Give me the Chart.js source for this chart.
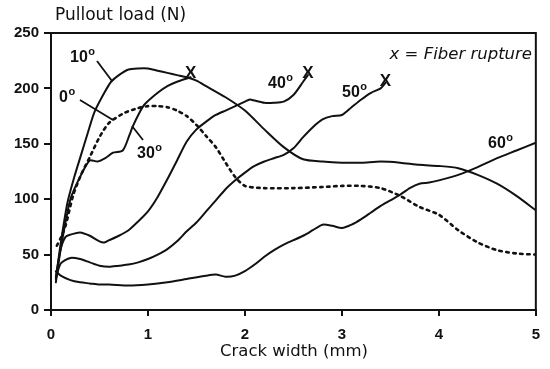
<!DOCTYPE html>
<html>
<head>
<meta charset="utf-8">
<script src="https://cdn.jsdelivr.net/npm/chart.js@4/dist/chart.umd.min.js"></script>
<style>
  html, body { margin: 0; padding: 0; background: #fff; }
  #chart { display: block; }
</style>
</head>
<body>
<canvas id="chart" width="550" height="369"></canvas>
<script>
// crack width (mm) / pullout load (N)
const deg0X = [0.06, 0.1, 0.15, 0.23, 0.31, 0.4, 0.5, 0.6, 0.76, 0.89, 1.0, 1.1, 1.2, 1.3, 1.4, 1.5, 1.6, 1.7, 1.8, 1.9, 2.0, 2.2, 2.5, 2.8, 3.0, 3.2, 3.4, 3.6, 3.8, 4.0, 4.2, 4.4, 4.6, 4.8, 5.0];
const deg0Y = [58, 65, 76, 104, 122, 138, 156, 169, 178, 182, 184, 184, 183, 180, 175, 167, 157, 147, 133, 120, 112, 110, 110, 111, 112, 112, 110, 103, 93, 86, 72, 61, 54, 51, 50];

const deg10X = [0.05, 0.1, 0.17, 0.24, 0.31, 0.38, 0.45, 0.55, 0.62, 0.7, 0.8, 0.9, 1.0, 1.1, 1.2, 1.3, 1.4, 1.5, 1.6, 1.8, 2.0, 2.2, 2.4, 2.6, 2.8, 3.0, 3.2, 3.4, 3.6, 3.8, 4.0, 4.2, 4.4, 4.6, 4.8, 5.0];
const deg10Y = [28, 60, 97, 120, 140, 160, 179, 196, 206, 212, 217, 218, 218, 216, 214, 212, 210, 207, 202, 192, 180, 163, 147, 136, 134, 133, 133, 134, 133, 131, 130, 128, 122, 114, 103, 90];

const deg30X = [0.05, 0.1, 0.2, 0.31, 0.4, 0.48, 0.56, 0.64, 0.74, 0.81, 0.84, 0.9, 0.96, 1.1, 1.2, 1.3, 1.44];
const deg30Y = [25, 55, 100, 122, 135, 134, 137, 142, 144, 158, 165, 176, 185, 196, 202, 206, 210];

const deg40X = [0.05, 0.1, 0.15, 0.2, 0.3, 0.4, 0.5, 0.55, 0.6, 0.7, 0.8, 0.9, 1.0, 1.1, 1.2, 1.3, 1.4, 1.5, 1.6, 1.7, 1.8, 1.9, 2.0, 2.05, 2.1, 2.2, 2.3, 2.4, 2.5, 2.6, 2.65];
const deg40Y = [30, 55, 66, 68, 70, 67, 62, 61, 63, 67, 72, 80, 89, 102, 118, 135, 152, 163, 170, 176, 180, 184, 188, 190, 189, 187, 187, 188, 194, 206, 212];

const deg50X = [0.05, 0.1, 0.2, 0.3, 0.4, 0.5, 0.6, 0.7, 0.8, 0.9, 1.0, 1.1, 1.2, 1.3, 1.4, 1.5, 1.6, 1.7, 1.8, 1.9, 2.0, 2.1, 2.2, 2.3, 2.4, 2.5, 2.6, 2.7, 2.8, 2.9, 3.0, 3.1, 3.2, 3.3, 3.4, 3.45];
const deg50Y = [28, 42, 47, 46, 43, 40, 39, 40, 41, 43, 46, 50, 55, 62, 71, 79, 89, 99, 109, 117, 124, 130, 134, 137, 140, 146, 156, 165, 172, 175, 176, 183, 190, 196, 200, 205];

const deg60X = [0.05, 0.1, 0.2, 0.3, 0.4, 0.5, 0.6, 0.8, 1.0, 1.2, 1.4, 1.6, 1.7, 1.8, 1.9, 2.0, 2.1, 2.2, 2.3, 2.4, 2.5, 2.6, 2.7, 2.8, 2.9, 3.0, 3.1, 3.2, 3.3, 3.4, 3.5, 3.6, 3.7, 3.8, 3.9, 4.0, 4.2, 4.4, 4.6, 4.8, 5.0];
const deg60Y = [35, 31, 27, 25, 24, 23, 23, 22, 23, 25, 28, 31, 32, 30, 31, 35, 41, 48, 54, 59, 63, 67, 72, 77, 76, 74, 77, 82, 88, 94, 99, 104, 110, 114, 115, 117, 122, 129, 137, 144, 151];

// fiber rupture marks
const ruptureX = [1.44, 2.65, 3.45];
const ruptureY = [214, 214, 206];

const xTicks = [0, 1, 2, 3, 4, 5];
const yTicks = [0, 50, 100, 150, 200, 250];

function pts(xs, ys) {
    return xs.map((x, i) => ({ x: x, y: ys[i] }));
}

function curve(label, xs, ys, dash) {
    return {
        label: label,
        data: pts(xs, ys),
        borderColor: '#111',
        borderWidth: dash ? 2.6 : 2,
        borderDash: dash || [],
        borderCapStyle: 'round',
        pointRadius: 0,
        tension: 0.25,
        fill: false
    };
}

const tickFont = { family: '"Liberation Sans", Arial, sans-serif', size: 15, weight: 'bold' };

// texts, leaders, frame
const decorPlugin = {
    id: 'decor',
    afterDraw(chart) {
        const ctx = chart.ctx;
        const a = chart.chartArea;
        ctx.save();
        ctx.strokeStyle = '#111';
        ctx.lineWidth = 2;
        ctx.beginPath();
        ctx.moveTo(a.left, a.top);
        ctx.lineTo(a.right, a.top);
        ctx.lineTo(a.right, a.bottom);
        ctx.stroke();

        // leader lines
        ctx.lineWidth = 1.8;
        ctx.beginPath();
        ctx.moveTo(97, 61); ctx.lineTo(112, 81);
        ctx.moveTo(80, 100); ctx.lineTo(113, 120);
        ctx.moveTo(132, 126); ctx.lineTo(143, 140);
        ctx.stroke();

        ctx.fillStyle = '#111';
        ctx.textBaseline = 'alphabetic';
        ctx.textAlign = 'left';
        function deg(txt, x, y) {
            ctx.font = 'bold 16px "Liberation Sans", Arial, sans-serif';
            ctx.fillText(txt, x, y);
            const w = ctx.measureText(txt).width;
            ctx.font = 'bold 11px "Liberation Sans", Arial, sans-serif';
            ctx.fillText('o', x + w + 0.5, y - 7);
        }
        deg('10', 70, 62);
        deg('0', 59, 102);
        deg('30', 137, 158);
        deg('40', 268, 88);
        deg('50', 342, 97);
        deg('60', 488, 148);

        ctx.font = 'bold 17px "Liberation Sans", Arial, sans-serif';
        ctx.textAlign = 'center';
        ctx.textBaseline = 'middle';
        const xs = chart.scales.x, ys = chart.scales.y;
        ruptureX.forEach((v, i) => {
            ctx.fillText('X', xs.getPixelForValue(v), ys.getPixelForValue(ruptureY[i]));
        });

        ctx.font = 'italic 16.5px "DejaVu Sans", Verdana, sans-serif';
        ctx.textAlign = 'right';
        ctx.textBaseline = 'middle';
        ctx.fillText('x = Fiber rupture', 532, 55);

        ctx.font = '17px "DejaVu Sans", Verdana, sans-serif';
        ctx.textAlign = 'left';
        ctx.fillText('Pullout load (N)', 55, 16);

        ctx.font = '16.5px "DejaVu Sans", Verdana, sans-serif';
        ctx.textAlign = 'center';
        ctx.fillText('Crack width (mm)', 294, 352);
        ctx.restore();
    }
};

new Chart(document.getElementById('chart'), {
    type: 'line',
    data: {
        datasets: [
            curve('0°', deg0X, deg0Y, [2.5, 4.5]),
            curve('10°', deg10X, deg10Y),
            curve('30°', deg30X, deg30Y),
            curve('40°', deg40X, deg40Y),
            curve('50°', deg50X, deg50Y),
            curve('60°', deg60X, deg60Y)
        ]
    },
    options: {
        responsive: false,
        animation: false,
        events: [],
        layout: { padding: { left: 0, top: 33, right: 11, bottom: 0 } },
        plugins: {
            legend: { display: false },
            tooltip: { enabled: false }
        },
        scales: {
            x: {
                type: 'linear',
                min: 0,
                max: 5,
                afterBuildTicks: s => { s.ticks = xTicks.map(v => ({ value: v })); },
                afterFit: s => { s.height = 59; },
                ticks: { color: '#111', font: tickFont, padding: 10, maxRotation: 0 },
                grid: { drawOnChartArea: false, tickLength: 6, color: '#111', lineWidth: 2 },
                border: { color: '#111', width: 2 }
            },
            y: {
                min: 0,
                max: 250,
                afterBuildTicks: s => { s.ticks = yTicks.map(v => ({ value: v })); },
                afterFit: s => { s.width = 51; },
                ticks: { color: '#111', font: tickFont, padding: 5 },
                grid: { drawOnChartArea: false, tickLength: 7, color: '#111', lineWidth: 2 },
                border: { color: '#111', width: 2 }
            }
        }
    },
    plugins: [decorPlugin]
});
</script>
</body>
</html>
